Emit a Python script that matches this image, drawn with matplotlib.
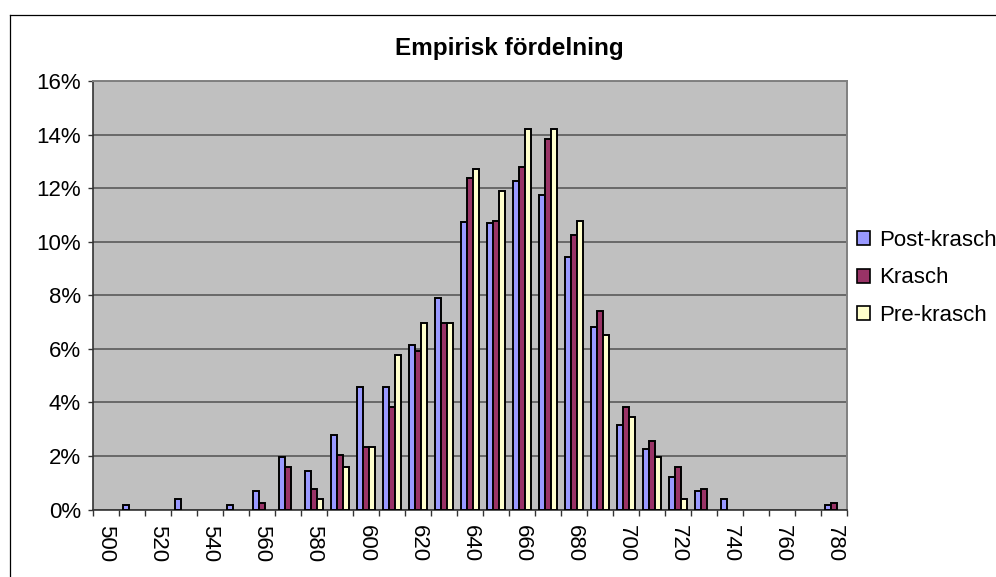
import numpy as np
import matplotlib
matplotlib.use("Agg")
import matplotlib.pyplot as plt
from matplotlib.patches import Patch
from matplotlib.lines import Line2D

plt.rcParams['font.family'] = ['Liberation Sans', 'DejaVu Sans']

# category bins (lower edge of each interval)
bins = [500, 510, 520, 530, 540, 550, 560, 570, 580, 590,
        600, 610, 620, 630, 640, 650, 660, 670, 680, 690,
        700, 710, 720, 730, 740, 750, 760, 770, 780]

# share of observations per bin, in percent
post_krasch = [0, 0.16, 0, 0.39, 0, 0.16, 0.69, 1.96, 1.43, 2.78,
               4.58, 4.58, 6.16, 7.88, 10.72, 10.70, 12.27, 11.75, 9.43, 6.82,
               3.16, 2.26, 1.21, 0.69, 0.39, 0, 0, 0, 0.16]
krasch = [0, 0, 0, 0, 0, 0, 0.24, 1.58, 0.76, 2.03,
          2.33, 3.83, 5.93, 6.98, 12.36, 10.78, 12.79, 13.84, 10.25, 7.42,
          3.83, 2.56, 1.58, 0.76, 0, 0, 0, 0, 0.24]
pre_krasch = [0, 0, 0, 0, 0, 0, 0, 0, 0.39, 1.58,
              2.33, 5.78, 6.98, 6.98, 12.72, 11.90, 14.21, 14.21, 10.78, 6.52,
              3.46, 1.96, 0.39, 0, 0, 0, 0, 0, 0]

series = [("Post-krasch", post_krasch, "#9999FF"),
          ("Krasch", krasch, "#993366"),
          ("Pre-krasch", pre_krasch, "#FFFFCC")]

W, H = 996, 577
fig = plt.figure(figsize=(W / 100, H / 100), dpi=100)
fig.patch.set_facecolor("white")

# outer chart border (only left and top visible in the crop)
fig.add_artist(Line2D([10 / W, 10 / W], [0, 1 - 15 / H], color="black", lw=0.9))
fig.add_artist(Line2D([10 / W, 1], [1 - 15 / H, 1 - 15 / H], color="black", lw=0.9))

ax = fig.add_axes([93 / W, 1 - 509.5 / H, (847 - 93) / W, (509.5 - 81) / H])
ax.set_facecolor("#C0C0C0")

x = np.arange(len(bins))
bw = 0.222
for k, (name, vals, col) in enumerate(series):
    vals = np.array(vals, dtype=float)
    keep = vals > 0
    ax.bar(x[keep] + (k - 1) * bw, vals[keep], width=bw, color=col,
           edgecolor="black", linewidth=1.4, zorder=3)

ax.set_xlim(-0.5, len(bins) - 0.5)
ax.set_ylim(0, 16)
ax.set_yticks(np.arange(0, 17, 2))
ax.set_yticklabels([f"{v}%" for v in range(0, 17, 2)])
ax.yaxis.grid(True, color="#505050", lw=1.1, zorder=1)
ax.set_axisbelow(True)

ax.set_xticks(x[::2])
ax.set_xticklabels([str(b) for b in bins[::2]], rotation=270, ha="center", va="top")
ax.set_xticks(np.arange(len(bins) + 1) - 0.5, minor=True)
ax.tick_params(axis="x", which="major", length=0, pad=11, labelsize=16)
ax.tick_params(axis="x", which="minor", length=4.5, width=1.0, color="#333333")
ax.tick_params(axis="y", which="major", length=3.6, width=1.0, color="#333333",
               pad=5, labelsize=16)

for s in ["left", "bottom"]:
    ax.spines[s].set_color("#333333")
    ax.spines[s].set_linewidth(1.2)
for s in ["top", "right"]:
    ax.spines[s].set_color("#808080")
    ax.spines[s].set_linewidth(1.4)

fig.text(509.5 / W, 1 - 48 / H, "Empirisk fördelning", ha="center", va="center",
         fontsize=17.5, fontweight="bold")

handles = [Patch(facecolor=c, edgecolor="black", linewidth=1.2) for _, _, c in series]
fig.legend(handles, [n for n, _, _ in series], loc="center left",
           bbox_to_anchor=(857 / W, 1 - 278 / H), frameon=False, fontsize=16,
           handlelength=0.6, handleheight=0.6, handletextpad=0.4,
           labelspacing=0.75, borderpad=0, borderaxespad=0)

fig.savefig("out.png", dpi=100)
